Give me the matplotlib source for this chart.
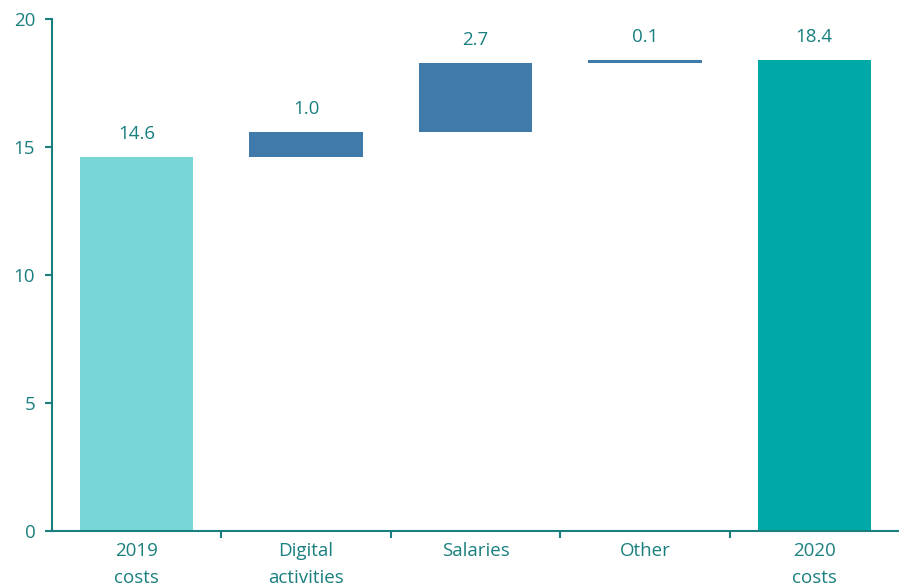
import matplotlib.pyplot as plt
import numpy as np

categories = ["2019\ncosts", "Digital\nactivities", "Salaries", "Other", "2020\ncosts"]
changes = [14.6, 1.0, 2.7, 0.1, 18.4]
labels = ["14.6", "1.0", "2.7", "0.1", "18.4"]
is_total = [True, False, False, False, True]
colors = ["#78D6D6", "#3F7AAB", "#3F7AAB", "#3F7AAB", "#00A8A8"]

txt = "#1A7F7F"
plt.rcParams['font.family'] = ['Open Sans', 'DejaVu Sans']

fig = plt.figure(figsize=(8.99, 5.87), dpi=100)
ax = fig.add_axes([0.0578, 0.0954, 0.9422, 0.8722])

x = np.arange(len(categories))
bottoms = []
running = 0.0
for c, tot in zip(changes, is_total):
    if tot:
        bottoms.append(0)
        running = c
    else:
        bottoms.append(running)
        running += c
# running sum puts Other at 18.3-18.4
bottoms[3] = 18.3

ax.bar(x, changes, bottom=bottoms, width=0.67, color=colors)
for xi, b, h, lab in zip(x, bottoms, changes, labels):
    ax.annotate(lab, (xi, b + h), xytext=(0, 10), textcoords="offset points",
                ha="center", va="bottom", color=txt, fontsize=13.5)

ax.set_xlim(-0.5, len(categories) - 0.5)
ax.set_ylim(0, 20)
ax.set_yticks([0, 5, 10, 15, 20])
ax.set_xticks(x)
ax.set_xticklabels(categories, color=txt, fontsize=13.5, linespacing=1.6)
ax.set_xticks(x[:-1] + 0.5, minor=True)
ax.tick_params(axis="x", which="major", length=0, pad=8)
ax.tick_params(axis="x", which="minor", length=5, width=1.5, color=txt, direction="out")
ax.tick_params(axis="y", length=5, width=1.5, color=txt, labelcolor=txt, labelsize=13.5, pad=7)

for s in ["top", "right"]:
    ax.spines[s].set_visible(False)
for s in ["left", "bottom"]:
    ax.spines[s].set_color(txt)
    ax.spines[s].set_linewidth(1.5)

fig.savefig("out.png", dpi=100)
